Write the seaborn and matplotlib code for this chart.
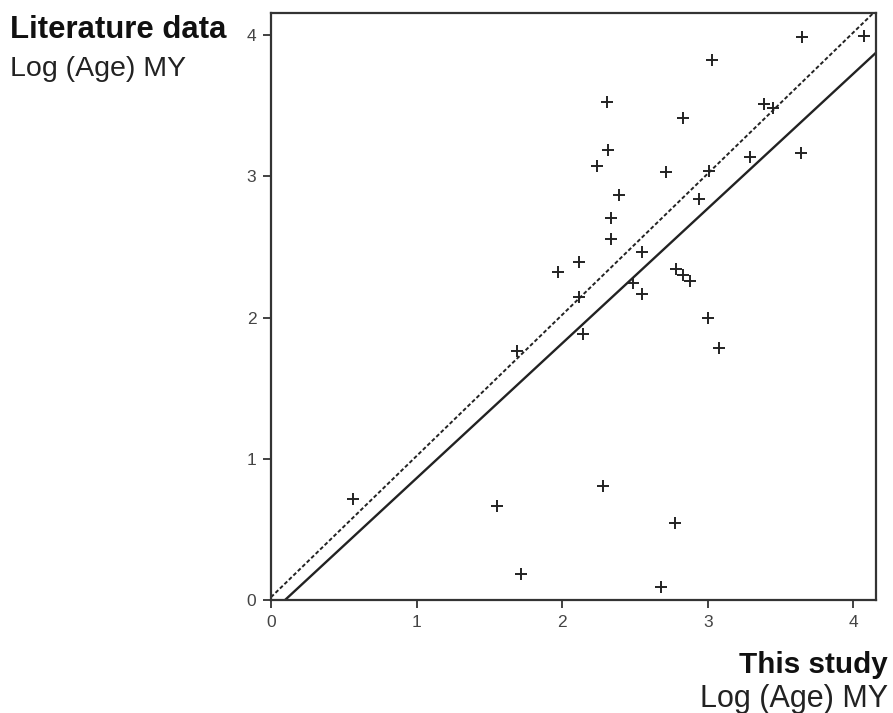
import numpy as np
import pandas as pd
import matplotlib
matplotlib.use("Agg")
import matplotlib.pyplot as plt
import seaborn as sns

# Log(Age) MY - este estudio vs. literatura
this_study = [0.563, 1.552, 1.717, 2.28, 2.775, 2.678, 1.69, 2.14, 2.115, 2.55,
              3.0, 3.077, 2.486, 2.78, 2.83, 2.88, 1.97, 2.115, 2.335, 2.335,
              2.39, 2.237, 2.315, 2.31, 2.55, 2.713, 2.83, 2.94, 3.008, 3.03,
              3.29, 3.386, 3.448, 3.647, 3.64, 4.073]
literature = [0.715, 0.666, 0.184, 0.807, 0.545, 0.092, 1.763, 1.884, 2.146, 2.167,
              1.997, 1.785, 2.245, 2.345, 2.30, 2.26, 2.32, 2.39, 2.555, 2.705,
              2.868, 3.075, 3.187, 3.527, 2.465, 3.03, 3.415, 2.84, 3.04, 3.824,
              3.137, 3.513, 3.484, 3.987, 3.166, 3.994]

# recta 1:1 y recta de ajuste
identity_slope, identity_icpt = 1.0, 0.02
fit_slope, fit_icpt = 0.955, -0.092

ticks = [0, 1, 2, 3, 4]

df = pd.DataFrame({"x": this_study, "y": literature})

sns.set_theme(style="ticks")
plt.rcParams["font.family"] = ["Liberation Sans", "DejaVu Sans"]

fig = plt.figure(figsize=(8.93, 7.13), dpi=100)
ax = fig.add_axes([0.3035, 0.1585, 0.6775, 0.8233])

ax.axline((0, identity_icpt), slope=identity_slope, color="#222222", lw=1.4,
          linestyle=(0, (2, 1.2)))
ax.axline((0, fit_icpt), slope=fit_slope, color="#222222", lw=1.7)

sns.scatterplot(data=df, x="x", y="y", marker="+", color="#222222", s=85,
                linewidth=1.4, ax=ax, zorder=3)

ax.set_xlim(0, 4.155)
ax.set_ylim(0, 4.157)
ax.set_xticks(ticks)
ax.set_yticks(ticks)
ax.set_xlabel("")
ax.set_ylabel("")
for s in ax.spines.values():
    s.set_visible(True)
    s.set_color("#333333")
    s.set_linewidth(1.6)
ax.tick_params(length=5.5, width=1.3, color="#333333", labelsize=12.5,
               labelcolor="#444444", pad=5)

fig.text(0.011, 0.947, "Literature data", fontsize=22.4, fontweight="bold",
         ha="left", va="baseline", color="#111111")
fig.text(0.011, 0.893, "Log (Age) MY", fontsize=20.5, ha="left", va="baseline",
         color="#222222")
fig.text(0.994, 0.056, "This study", fontsize=21.3, fontweight="bold",
         ha="right", va="baseline", color="#111111")
fig.text(0.994, 0.009, "Log (Age) MY", fontsize=22, ha="right", va="baseline",
         color="#222222")

fig.savefig("out.png", dpi=100)
